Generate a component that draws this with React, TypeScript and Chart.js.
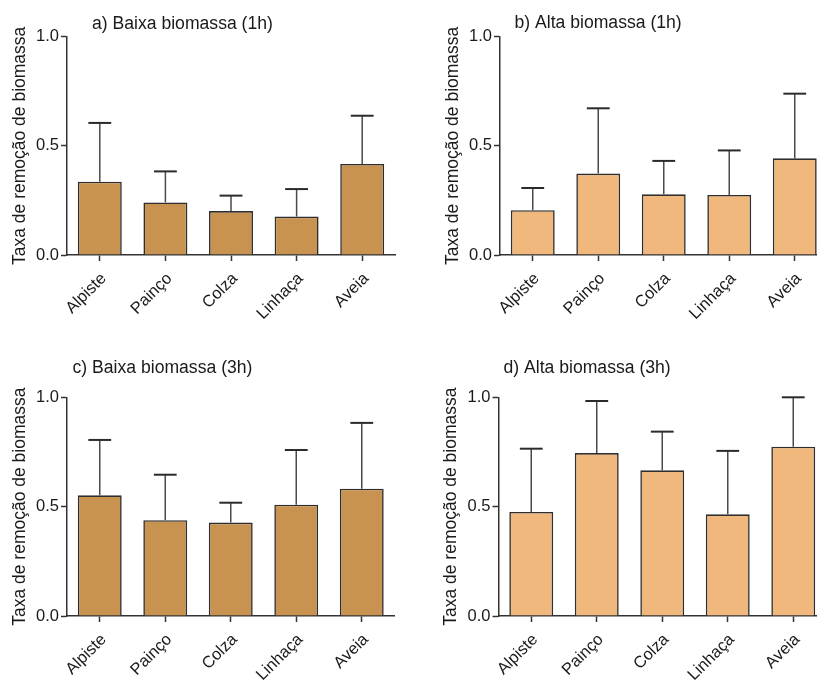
import React, { useEffect, useRef } from "react";
import { Chart, registerables } from "chart.js";

Chart.register(...registerables);

// ---- data ----
const CATEGORIES = ["Alpiste", "Painço", "Colza", "Linhaça", "Aveia"];
const Y_TICKS = [0, 0.5, 1.0];
const Y_TITLE = "Taxa de remoção de biomassa";

const TITLE_A = "a) Baixa biomassa (1h)";
const MEAN_A = [0.336, 0.241, 0.201, 0.176, 0.417];
const UPPER_A = [0.605, 0.383, 0.272, 0.302, 0.638];

const TITLE_B = "b) Alta biomassa (1h)";
const MEAN_B = [0.205, 0.373, 0.278, 0.275, 0.443];
const UPPER_B = [0.307, 0.672, 0.431, 0.479, 0.739];

const TITLE_C = "c) Baixa biomassa (3h)";
const MEAN_C = [0.552, 0.438, 0.427, 0.509, 0.582];
const UPPER_C = [0.805, 0.646, 0.518, 0.759, 0.883];

const TITLE_D = "d) Alta biomassa (3h)";
const MEAN_D = [0.476, 0.745, 0.666, 0.465, 0.774];
const UPPER_D = [0.765, 0.983, 0.843, 0.755, 1.0];

// ---- styles ----
const FONT = "'Liberation Sans', Arial, Helvetica, sans-serif";
const DARK_FILL = "rgb(200,146,80)";
const LIGHT_FILL = "rgb(241,184,125)";
const INK = "#2b2b2b";

type Panel = {
  title: string;
  mean: number[];
  upper: number[];
  fill: string;
  left: number;
  top: number;
  w: number;
  h: number;
  area: { left: number; right: number; top: number; bottom: number };
  titleX: number;
  titleY: number;
};

const PANELS: Panel[] = [
  {
    title: TITLE_A, mean: MEAN_A, upper: UPPER_A, fill: DARK_FILL,
    left: 0, top: 0, w: 408, h: 340,
    area: { left: 67, right: 395, top: 36.7, bottom: 255 },
    titleX: 92, titleY: 29,
  },
  {
    title: TITLE_B, mean: MEAN_B, upper: UPPER_B, fill: LIGHT_FILL,
    left: 408, top: 0, w: 440, h: 340,
    area: { left: 92, right: 419.5, top: 36.7, bottom: 255 },
    titleX: 106.5, titleY: 28,
  },
  {
    title: TITLE_C, mean: MEAN_C, upper: UPPER_C, fill: DARK_FILL,
    left: 0, top: 340, w: 408, h: 346,
    area: { left: 67, right: 394.5, top: 57.3, bottom: 276 },
    titleX: 72.5, titleY: 32.7,
  },
  {
    title: TITLE_D, mean: MEAN_D, upper: UPPER_D, fill: LIGHT_FILL,
    left: 408, top: 340, w: 440, h: 346,
    area: { left: 90.5, right: 418, top: 57.3, bottom: 276 },
    titleX: 95.5, titleY: 32.7,
  },
];

const errorBarPlugin = {
  id: "errorBars",
  afterDatasetsDraw(chart: any, _args: any, opts: any) {
    const meta = chart.getDatasetMeta(0);
    const yScale = chart.scales.y;
    const ctx = chart.ctx;
    const upper: number[] = opts.upper || [];
    ctx.save();
    meta.data.forEach((bar: any, i: number) => {
      const yTop = yScale.getPixelForValue(upper[i]);
      const yBase = bar.y;
      const half = bar.width * 0.26;
      ctx.strokeStyle = "#4a4a4a";
      ctx.lineWidth = 1.5;
      ctx.beginPath();
      ctx.moveTo(bar.x, yBase);
      ctx.lineTo(bar.x, yTop);
      ctx.stroke();
      ctx.strokeStyle = INK;
      ctx.lineWidth = 2;
      ctx.beginPath();
      ctx.moveTo(bar.x - half, yTop);
      ctx.lineTo(bar.x + half, yTop);
      ctx.stroke();
    });
    ctx.restore();
  },
};

const panelTitlePlugin = {
  id: "panelTitle",
  afterDraw(chart: any, _args: any, opts: any) {
    const ctx = chart.ctx;
    ctx.save();
    ctx.font = `17.6px ${FONT}`;
    ctx.fillStyle = "#1a1a1a";
    ctx.textAlign = "left";
    ctx.textBaseline = "alphabetic";
    ctx.fillText(opts.text, opts.x, opts.y);
    ctx.restore();
  },
};

function PanelChart({ p }: { p: Panel }) {
  const ref = useRef<HTMLCanvasElement | null>(null);
  useEffect(() => {
    if (!ref.current) return;
    const chart = new Chart(ref.current, {
      type: "bar",
      data: {
        labels: CATEGORIES,
        datasets: [
          {
            data: p.mean,
            backgroundColor: p.fill,
            borderColor: "#2e2e2e",
            borderWidth: 1.6,
            borderSkipped: "start",
            categoryPercentage: 1,
            barPercentage: 0.67,
          },
        ],
      },
      options: {
        responsive: false,
        animation: false,
        devicePixelRatio: 1,
        layout: {
          padding: {
            left: 0,
            top: p.area.top,
            right: p.w - p.area.right,
            bottom: 0,
          },
        },
        plugins: {
          legend: { display: false },
          title: { display: false },
          tooltip: { enabled: false },
          errorBars: { upper: p.upper },
          panelTitle: { text: p.title, x: p.titleX, y: p.titleY },
        } as any,
        scales: {
          x: {
            type: "category",
            offset: true,
            afterFit: (s: any) => {
              s.height = p.h - p.area.bottom;
            },
            grid: {
              offset: false,
              drawOnChartArea: false,
              drawTicks: true,
              tickLength: 6,
              tickWidth: 1.5,
              tickColor: "#333333",
            },
            border: { display: true, color: "#333333", width: 1.5 },
            ticks: {
              color: "#1a1a1a",
              font: { family: FONT, size: 16.5 },
              maxRotation: 45,
              minRotation: 45,
              autoSkip: false,
              padding: 8,
              labelOffset: 4,
            },
          },
          y: {
            type: "linear",
            min: 0,
            max: 1,
            afterFit: (s: any) => {
              s.width = p.area.left;
            },
            afterBuildTicks: (s: any) => {
              s.ticks = Y_TICKS.map((v) => ({ value: v }));
            },
            grid: {
              drawOnChartArea: false,
              drawTicks: true,
              tickLength: 6,
              tickWidth: 1.5,
              tickColor: "#333333",
            },
            border: { display: true, color: "#333333", width: 1.5 },
            ticks: {
              color: "#1a1a1a",
              font: { family: FONT, size: 16.5 },
              padding: 2,
              callback: (v: any) => Number(v).toFixed(1),
            },
            title: {
              display: true,
              text: Y_TITLE,
              color: "#1a1a1a",
              font: { family: FONT, size: 17.5 },
              padding: { top: p.area.left - 47 - 10.5, bottom: 0 },
            },
          },
        },
      },
      plugins: [errorBarPlugin, panelTitlePlugin],
    } as any);
    return () => chart.destroy();
  }, [p]);
  return (
    <canvas
      ref={ref}
      width={p.w}
      height={p.h}
      style={{
        position: "absolute",
        left: p.left,
        top: p.top,
        width: p.w,
        height: p.h,
      }}
    />
  );
}

export default function App() {
  return (
    <div
      style={{
        position: "absolute",
        left: 0,
        top: 0,
        width: 817,
        height: 686,
        overflow: "hidden",
        background: "#ffffff",
      }}
    >
      {PANELS.map((p, i) => (
        <PanelChart key={i} p={p} />
      ))}
    </div>
  );
}
